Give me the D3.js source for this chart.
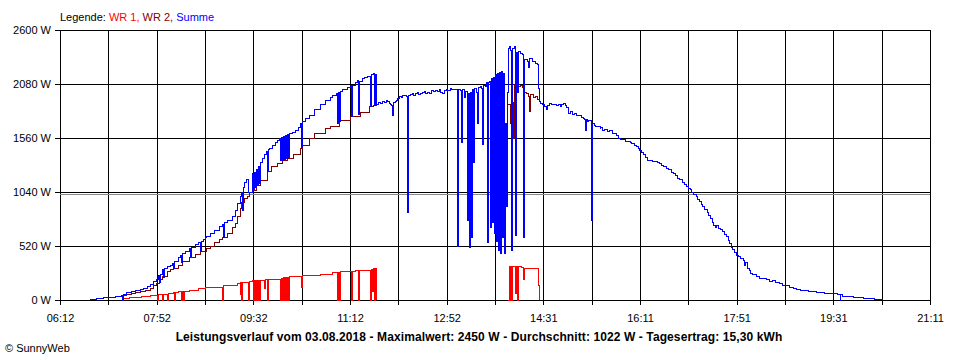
<!DOCTYPE html>
<html><head><meta charset="utf-8">
<script src="https://cdn.jsdelivr.net/npm/d3@7"></script>
<style>
html,body{margin:0;padding:0;background:#fff;}
svg{display:block;}
text{font-family:"Liberation Sans",Arial,sans-serif;fill:#000;}
</style></head><body>
<svg id="c" width="960" height="360"></svg>
<script>
// ---------- data ----------
const xTickLabels = ["06:12","07:52","09:32","11:12","12:52","14:31","16:11","17:51","19:31","21:11"];
const yTickValues = [0,520,1040,1560,2080,2600];
const average = 1022;
const titleText = "Leistungsverlauf vom 03.08.2018 - Maximalwert: 2450 W - Durchschnitt: 1022 W - Tagesertrag: 15,30 kWh";

// WR 1 (red); null = gap (not drawn)
const wr1 = [
["07:16",0],["07:17",12],["07:24",20],["07:30",26],["07:36",38],["07:45",45],["07:52",48],["07:53",0],["07:54",52],["07:58",0],["07:59",55],
["08:03",0],["08:04",64],["08:09",70],["08:10",0],["08:11",75],["08:14",80],["08:18",0],["08:19",82],["08:20",0],["08:21",85],["08:26",96],
["08:35",106],["08:42",119],["08:52",125],["09:00",0],["09:01",135],["09:05",144],["09:15",160],["09:18",50],["09:19",170],["09:20",0],["09:21",172],
["09:27",0],["09:28",180],["09:31",183],["09:32",0],["09:33",185],["09:34",0],["09:35",188],["09:36",0],["09:37",190],["09:38",0],["09:39",192],
["09:43",110],["09:44",195],["09:46",0],["09:47",199],["10:00",0],["10:01",210],["10:02",0],["10:03",215],["10:04",0],["10:05",218],["10:06",0],
["10:07",220],["10:08",0],["10:09",222],["10:13",225],["10:22",120],["10:23",234],["10:41",247],["10:54",263],["10:59",0],["11:00",265],["11:01",0],
["11:02",270],["11:04",273],["11:13",0],["11:14",278],["11:17",280],["11:19",283],["11:20",0],["11:21",285],["11:33",0],["11:34",289],["11:35",80],
["11:36",300],["11:37",0],["11:38",300],["11:39",0],
null,
["13:55",0],["13:56",320],["13:57",0],["13:58",320],["13:59",0],["14:00",320],["14:03",60],["14:04",320],["14:05",0],["14:06",320],["14:09",310],
["14:11",200],["14:12",305],["14:25",300],["14:26",140],["14:27",0]
];

// WR 2 (dark red) where it is visible; elsewhere it lies under "Summe"
const wr2 = [
["06:43",8],["06:50",14],["06:57",20],["07:02",28],["07:09",34],["07:16",38],["07:17",0],["07:18",45],["07:21",55],["07:26",64],["07:30",72],
["07:35",80],["07:40",95],["07:45",112],["07:49",140],["07:52",163],["07:55",200],["07:58",225],["08:03",270],["08:06",290],["08:09",305],
["08:14",335],["08:19",369],["08:26",410],["08:32",440],["08:37",470],["08:43",498],["08:47",520],["08:52",550],["08:57",578],["09:00",600],
["09:05",645],["09:10",700],["09:13",738],["09:15",800],["09:18",883],["09:20",940],["09:23",980],["09:26",995],["09:28",1040],["09:31",1059],
["09:35",1100],["09:39",1155],["09:46",1236],["09:51",1284],["09:57",1316],["10:02",1340],["10:07",1364],["10:13",1400],["10:20",1460],
["10:23",1483],["10:30",1560],["10:35",1608],["10:46",1650],["10:51",1669],["11:01",1727],["11:12",1765],["11:22",1804],["11:32",1862],
["11:36",1870],["11:39",1880],
null,
["13:55",1880],["13:57",1700],["13:58",1880],["13:59",480],["14:00",1900],["14:01",1560],["14:02",2080],["14:03",620],["14:04",2090],
["14:06",2060],["14:08",2070],["14:10",2050],["14:11",600],["14:12",2000],["14:14",1990],["14:16",1960],["14:17",1813],["14:18",1980],
["14:21",1950],["14:23",1960],["14:25",1930],["14:27",1910]
];

// Summe (blue)
const summe = [
["06:43",8],["06:50",14],["06:57",20],["07:02",28],["07:09",36],["07:16",40],["07:17",0],["07:18",50],["07:21",72],["07:26",85],["07:30",90],
["07:35",100],["07:38",112],["07:42",130],["07:45",150],["07:49",175],["07:52",200],["07:54",235],["07:55",170],["07:56",250],["07:58",290],
["07:59",215],["08:00",300],["08:03",318],["08:06",335],["08:08",355],["08:09",300],["08:10",370],["08:14",414],["08:17",430],["08:18",360],
["08:19",445],["08:22",470],["08:26",500],["08:27",417],["08:28",510],["08:32",535],["08:35",555],["08:37",470],["08:38",565],["08:40",585],
["08:42",600],["08:43",615],["08:47",640],["08:52",670],["08:57",705],["09:00",730],["09:01",600],["09:02",745],["09:05",770],["09:10",800],
["09:13",860],["09:15",930],["09:18",1000],["09:20",1035],["09:21",860],["09:22",1080],["09:23",1130],["09:25",1160],["09:27",1035],["09:31",1220],
["09:32",1060],["09:33",1230],["09:34",1080],["09:35",1260],["09:36",1100],["09:37",1290],["09:38",1120],["09:39",1320],["09:41",1360],
["09:43",1400],["09:45",1430],["09:46",1240],["09:47",1445],["09:48",1460],["09:52",1490],["09:55",1520],["09:57",1540],["09:59",1555],
["10:00",1340],["10:01",1565],["10:02",1345],["10:03",1575],["10:04",1355],["10:05",1585],["10:06",1365],["10:07",1595],["10:08",1370],
["10:09",1605],["10:12",1610],["10:15",1630],["10:18",1660],["10:20",1690],["10:21",1700],["10:22",1470],["10:23",1720],["10:26",1750],
["10:30",1780],["10:35",1830],["10:41",1880],["10:46",1920],["10:51",1950],["10:54",1965],["10:58",1990],["10:59",1700],["11:00",2000],
["11:01",1720],["11:02",2010],["11:04",2025],["11:09",2045],["11:12",2065],["11:13",1770],["11:14",2070],["11:17",2090],["11:19",2110],
["11:20",1790],["11:21",2105],["11:25",2130],["11:27",2140],["11:30",2150],["11:32",2155],["11:33",1860],["11:34",2170],["11:36",2180],
["11:37",1870],["11:38",2175],["11:39",1880],["11:41",1900],["11:43",1895],["11:45",1910],["11:47",1905],["11:49",1920],["11:50",1915],
["11:52",1895],["11:53",1880],["11:55",1870],["11:56",1780],["11:57",1900],["11:59",1915],["12:00",1925],["12:01",1945],["12:03",1960],
["12:05",1950],["12:06",1970],["12:08",1965],["12:10",1960],["12:11",840],["12:12",1970],["12:14",1975],["12:16",1990],["12:17",1970],
["12:19",1985],["12:21",1995],["12:22",1975],["12:24",1990],["12:27",1995],["12:29",2010],["12:30",1990],["12:32",2000],["12:34",1990],
["12:36",2015],["12:38",2005],["12:40",2020],["12:42",2010],["12:44",2025],["12:45",2000],["12:47",1990],["12:49",2015],["12:51",2030],
["12:52",2020],["12:55",2035],["12:57",2025],["13:00",2030],["13:03",520],["13:04",2030],["13:06",2020],["13:07",1512],["13:08",2025],
["13:10",1950],["13:11",2010],["13:13",770],["13:14",1990],["13:15",510],["13:16",2000],["13:17",600],["13:18",2030],["13:19",1320],
["13:20",2040],["13:22",2000],["13:23",1700],["13:24",2050],["13:26",2060],["13:28",2040],["13:29",1500],["13:30",2070],["13:32",2060],
["13:33",2090],["13:34",550],["13:35",2090],["13:36",2100],["13:37",700],["13:38",2130],["13:39",750],["13:40",2140],["13:41",640],
["13:42",2170],["13:43",560],["13:44",2180],["13:45",480],["13:46",2190],["13:47",450],["13:48",2200],["13:49",600],["13:50",2180],
["13:51",450],["13:52",1700],["13:53",900],["13:54",2000],["13:55",2420],["13:56",2440],["13:58",2400],["13:59",480],["14:00",2420],
["14:02",2440],["14:03",620],["14:04",2380],["14:05",2000],["14:06",2390],["14:08",2370],["14:10",2360],["14:11",600],["14:12",2320],
["14:15",2300],["14:16",2240],["14:17",2330],["14:20",2300],["14:23",2280],["14:25",2270],["14:26",2040],["14:27",1910],["14:29",1890],
["14:31",1878],["14:33",1860],["14:35",1830],["14:36",1870],["14:38",1897],["14:40",1885],["14:43",1880],["14:45",1870],["14:47",1885],
["14:49",1862],["14:50",1880],["14:52",1897],["14:54",1870],["14:55",1850],["14:57",1800],["14:59",1815],["15:02",1790],["15:04",1800],
["15:06",1781],["15:08",1775],["15:11",1760],["15:13",1750],["15:14",1740],["15:15",1637],["15:16",1740],["15:17",1717],["15:18",1725],
["15:20",1733],["15:21",770],["15:22",1700],["15:24",1680],["15:25",1669],["15:27",1675],["15:30",1650],["15:31",1660],["15:33",1637],
["15:35",1640],["15:38",1625],["15:40",1630],["15:43",1608],["15:45",1600],["15:47",1580],["15:49",1560],["15:51",1541],["15:53",1545],
["15:56",1530],["15:58",1525],["16:01",1515],["16:03",1505],["16:06",1490],["16:08",1475],["16:10",1455],["16:11",1444],["16:13",1420],
["16:15",1400],["16:17",1370],["16:19",1348],["16:21",1345],["16:24",1335],["16:26",1330],["16:29",1322],["16:31",1310],["16:34",1300],
["16:36",1285],["16:39",1268],["16:41",1255],["16:44",1230],["16:46",1215],["16:48",1195],["16:50",1172],["16:52",1160],["16:55",1130],
["16:57",1110],["16:59",1095],["17:01",1076],["17:03",1060],["17:05",1040],["17:07",1020],["17:10",995],["17:11",970],["17:13",950],
["17:15",920],["17:16",898],["17:18",870],["17:21",840],["17:22",810],["17:24",786],["17:26",750],["17:27",722],["17:29",700],["17:30",720],
["17:32",690],["17:34",675],["17:37",658],["17:39",630],["17:41",610],["17:43",575],["17:44",546],["17:46",510],["17:47",490],["17:49",460],
["17:51",433],["17:53",415],["17:55",400],["17:58",385],["17:59",330],["18:00",360],["18:02",305],["18:04",285],["18:05",270],["18:06",255],
["18:08",241],["18:10",245],["18:12",225],["18:14",230],["18:15",210],["18:18",205],["18:22",193],["18:25",180],["18:28",185],["18:31",170],
["18:35",160],["18:39",144],["18:42",135],["18:46",120],["18:50",110],["18:53",105],["18:57",96],["19:01",90],["19:05",85],["19:10",80],
["19:14",74],["19:18",70],["19:22",65],["19:26",62],["19:31",58],["19:35",55],["19:38",0],["19:39",50],["19:41",38],["19:45",34],
["19:48",30],["19:52",26],["19:57",20],["20:02",18],["20:06",16],["20:10",12],["20:14",8],["20:18",4],["20:22",0]
];

// ---------- drawing ----------
const toMin = s => { const p = s.split(":"); return (+p[0]) * 60 + (+p[1]); };
const svg = d3.select("#c");
const x = d3.scaleLinear().domain([toMin("06:12"), toMin("21:11")]).range([60, 930]);
const y = d3.scaleLinear().domain([0, 2600]).range([300, 30]);

const d0 = x.domain()[0], d1 = x.domain()[1];
const gridTimes = d3.range(19).map(i => d0 + i * (d1 - d0) / 18);

const g = svg.append("g").attr("shape-rendering", "crispEdges");
// vertical grid
g.selectAll(".vg").data(gridTimes).join("line")
  .attr("x1", d => Math.round(x(d)) + 0.5).attr("x2", d => Math.round(x(d)) + 0.5)
  .attr("y1", y(2600)).attr("y2", y(0) + 5)
  .attr("stroke", "#000").attr("stroke-width", 1);
// horizontal grid
g.selectAll(".hg").data(yTickValues).join("line")
  .attr("x1", 55).attr("x2", 930.5)
  .attr("y1", d => Math.round(y(d)) + 0.5).attr("y2", d => Math.round(y(d)) + 0.5)
  .attr("stroke", "#000").attr("stroke-width", 1);
// average line
g.append("line")
  .attr("x1", 60).attr("x2", 930)
  .attr("y1", Math.round(y(average)) + 0.5).attr("y2", Math.round(y(average)) + 0.5)
  .attr("stroke", "#888").attr("stroke-width", 1);

const line = d3.line()
  .defined(d => d !== null)
  .x(d => x(toMin(d[0])))
  .y(d => y(d[1]))
  .curve(d3.curveStepAfter);

const series = [
  { data: wr1, color: "#ff0000" },
  { data: wr2, color: "#800000" },
  { data: summe, color: "#0000ff" }
];
g.selectAll(".s").data(series).join("path")
  .attr("d", d => line(d.data))
  .attr("fill", "none").attr("stroke", d => d.color).attr("stroke-width", 1);

// y tick labels
svg.selectAll(".yl").data(yTickValues).join("text")
  .attr("x", 51).attr("y", d => y(d) + 4)
  .attr("text-anchor", "end").attr("font-size", 11)
  .text(d => d + " W");
// x tick labels
svg.selectAll(".xl").data(xTickLabels).join("text")
  .attr("x", (d, i) => x(gridTimes[i * 2]) + 0.5).attr("y", 322)
  .attr("text-anchor", "middle").attr("font-size", 11)
  .text(d => d);

// legend
const leg = svg.append("text").attr("x", 60).attr("y", 21).attr("font-size", 11);
leg.append("tspan").text("Legende: ");
leg.append("tspan").style("fill", "#ff0000").text("WR 1, ");
leg.append("tspan").style("fill", "#800000").text("WR 2, ");
leg.append("tspan").style("fill", "#0000ff").text("Summe");

// title
svg.append("text").attr("x", 479).attr("y", 341).attr("text-anchor", "middle")
  .attr("font-size", 12).attr("font-weight", "bold").attr("letter-spacing", 0.1).text(titleText);
// copyright
svg.append("text").attr("x", 5).attr("y", 352).attr("font-size", 11).text("© SunnyWeb");
</script>
</body></html>
